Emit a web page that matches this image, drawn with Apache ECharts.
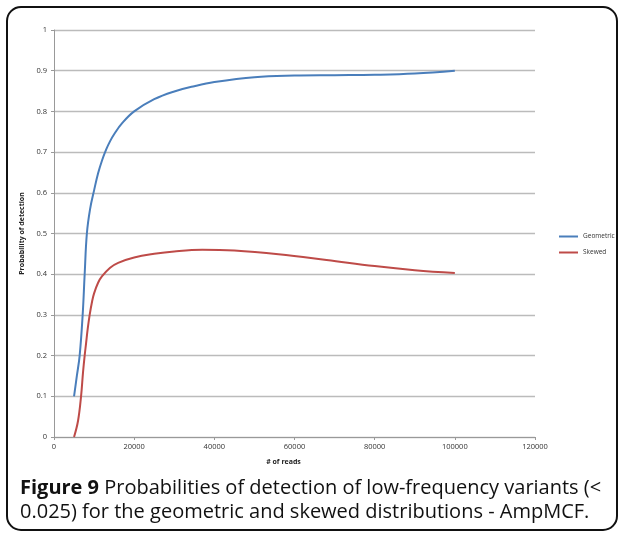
<!DOCTYPE html>
<html>
<head>
<meta charset="utf-8">
<script src="https://cdn.jsdelivr.net/npm/echarts@6/dist/echarts.min.js"></script>
<style>
  html, body { margin: 0; padding: 0; background: #fff; }
  #chart { width: 624px; height: 537px; }
</style>
</head>
<body>
<div id="chart"></div>
<script>
// x values (# of reads) and probabilities
const geoReads = [5000, 5700, 6400, 7150, 7650, 8200, 9000, 10000, 11000, 12000, 13000, 14000, 15000, 17000, 20000, 25000, 30000, 35000, 40000, 50000, 60000, 70000, 80000, 90000, 100000];
const geoProb  = [0.10, 0.15, 0.20, 0.30, 0.40, 0.50, 0.56, 0.606, 0.648, 0.68, 0.706, 0.727, 0.744, 0.771, 0.80, 0.83, 0.849, 0.862, 0.872, 0.884, 0.888, 0.889, 0.890, 0.893, 0.90];

const skewReads = [5000, 6000, 6750, 7250, 7650, 8000, 8400, 8900, 9500, 10000, 11000, 12000, 14000, 16000, 20000, 25000, 30000, 37000, 45000, 56000, 68000, 80000, 90000, 100000];
const skewProb  = [0.00, 0.04, 0.10, 0.16, 0.20, 0.23, 0.265, 0.30, 0.333, 0.353, 0.379, 0.395, 0.416, 0.428, 0.441, 0.450, 0.456, 0.46, 0.458, 0.449, 0.435, 0.420, 0.410, 0.403];

const seriesNames = ['Geometric', 'Skewed'];
const xTicks = [0, 20000, 40000, 60000, 80000, 100000, 120000];

const zip = (xs, ys) => xs.map((x, i) => [x, ys[i]]);

const chart = echarts.init(document.getElementById('chart'));
chart.setOption({
    animation: false,
    backgroundColor: '#fff',
    textStyle: { fontFamily: 'Open Sans' },
    graphic: [
        {
            type: 'rect',
            shape: { x: 7, y: 7, width: 610, height: 523, r: 14 },
            style: { fill: 'none', stroke: '#111', lineWidth: 2 }
        }
    ],
    title: {
        left: 20,
        top: 476,
        padding: 0,
        text: '{b|Figure 9} Probabilities of detection of low-frequency variants (<\n0.025) for the geometric and skewed distributions - AmpMCF.',
        textStyle: {
            fontFamily: 'Open Sans',
            fontSize: 20,
            fontWeight: 'normal',
            color: '#111',
            lineHeight: 24,
            rich: {
                b: { fontFamily: 'Open Sans', fontSize: 20, fontWeight: 'bold', color: '#111', lineHeight: 24 }
            }
        }
    },
    legend: {
        orient: 'vertical',
        left: 559,
        top: 233,
        padding: 0,
        itemWidth: 19,
        itemHeight: 2,
        itemGap: 9,
        icon: 'rect',
        textStyle: { fontSize: 6.5, color: '#333', width: 40, overflow: 'none' },
        data: seriesNames
    },
    grid: { left: 54, right: 89, top: 30, bottom: 100 },
    xAxis: {
        type: 'value',
        min: xTicks[0],
        max: xTicks[xTicks.length - 1],
        interval: 20000,
        name: '# of reads',
        nameLocation: 'middle',
        nameGap: 21,
        nameTextStyle: { fontSize: 7, fontWeight: 'bold', color: '#222', padding: [0, 22, 0, 0] },
        axisLine: { lineStyle: { color: '#999', width: 1 } },
        axisTick: { show: true, length: 3, lineStyle: { color: '#999' } },
        axisLabel: { fontSize: 7.5, color: '#333', margin: 6, formatter: v => String(v) },
        splitLine: { show: false }
    },
    yAxis: {
        type: 'value',
        min: 0,
        max: 1,
        interval: 0.1,
        name: 'Probability of detection',
        nameLocation: 'middle',
        nameGap: 24,
        nameTextStyle: { fontSize: 7, fontWeight: 'bold', color: '#222' },
        axisLine: { show: true, lineStyle: { color: '#999', width: 1 } },
        axisTick: { show: true, length: 3, lineStyle: { color: '#999' } },
        axisLabel: { fontSize: 7.5, color: '#333', margin: 7 },
        splitLine: { lineStyle: { color: '#bbb', width: 1.3 } }
    },
    series: [
        {
            name: seriesNames[0],
            type: 'line',
            data: zip(geoReads, geoProb),
            smooth: 0.4,
            showSymbol: false,
            lineStyle: { color: '#4a7ebb', width: 2 },
            itemStyle: { color: '#4a7ebb' }
        },
        {
            name: seriesNames[1],
            type: 'line',
            data: zip(skewReads, skewProb),
            smooth: 0.4,
            showSymbol: false,
            lineStyle: { color: '#be4b48', width: 2 },
            itemStyle: { color: '#be4b48' }
        }
    ]
});
</script>
</body>
</html>
